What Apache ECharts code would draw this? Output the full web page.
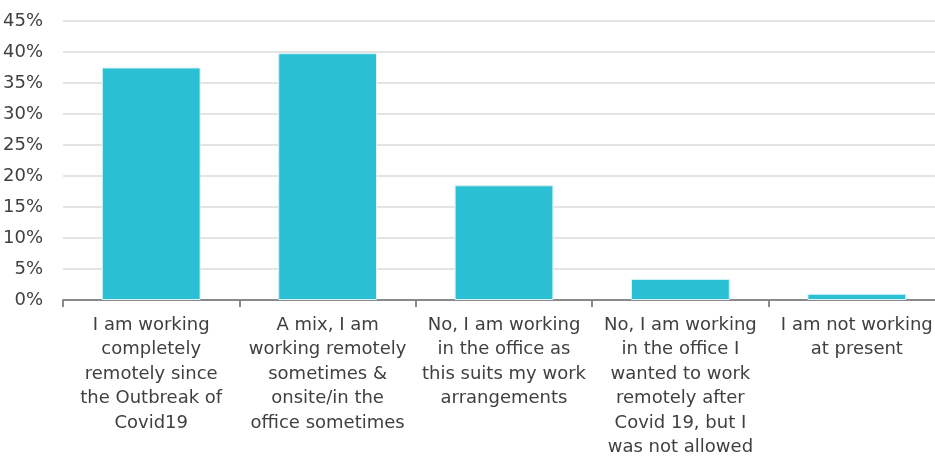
<!DOCTYPE html>
<html>
<head>
<meta charset="utf-8">
<script src="https://cdn.jsdelivr.net/npm/echarts@6/dist/echarts.min.js"></script>
<style>
  html, body { margin: 0; padding: 0; background: #fff; overflow: hidden; }
  /* plot runs past the right edge of the window, as in the original */
  #chart { width: 945px; height: 460px; }
</style>
</head>
<body>
<div id="chart"></div>
<script>
// answer categories (line breaks as in the original chart)
const categories = [
  'I am working\ncompletely\nremotely since\nthe Outbreak of\nCovid19',
  'A mix, I am\nworking remotely\nsometimes &\nonsite/in the\noffice sometimes',
  'No, I am working\nin the office as\nthis suits my work\narrangements',
  'No, I am working\nin the office I\nwanted to work\nremotely after\nCovid 19, but I\nwas not allowed',
  'I am not working\nat present'
];
// share of respondents, %
const shares = [37.5, 39.8, 18.5, 3.4, 1.0];

const yMax = 45;
const yStep = 5;

const chart = echarts.init(document.getElementById('chart'));
const font = 'DejaVu Sans';

chart.setOption({
  animation: false,
  textStyle: { fontFamily: font },
  grid: { left: 63, right: 0, top: 21, bottom: 160, containLabel: false },
  xAxis: {
    type: 'category',
    data: categories,
    axisLine: { lineStyle: { color: '#8a8a8a', width: 2 } },
    axisTick: { show: true, alignWithLabel: false, length: 7, lineStyle: { color: '#8a8a8a', width: 2 } },
    axisLabel: {
      interval: 0,
      margin: 13,
      color: '#404040',
      fontSize: 18,
      lineHeight: 24.5,
      fontFamily: font,
      align: 'center'
    }
  },
  yAxis: {
    type: 'value',
    min: 0,
    max: yMax,
    interval: yStep,
    axisLine: { show: false },
    axisTick: { show: false },
    axisLabel: {
      formatter: '{value}%',
      color: '#404040',
      fontSize: 18,
      margin: 20,
      fontFamily: font
    },
    splitLine: { lineStyle: { color: '#e4e4e4', width: 2 } }
  },
  series: [{
    type: 'bar',
    data: shares,
    barWidth: '56%',
    itemStyle: { color: '#2abfd3', borderColor: '#d8f3f7', borderWidth: 1 }
  }]
});
</script>
</body>
</html>
